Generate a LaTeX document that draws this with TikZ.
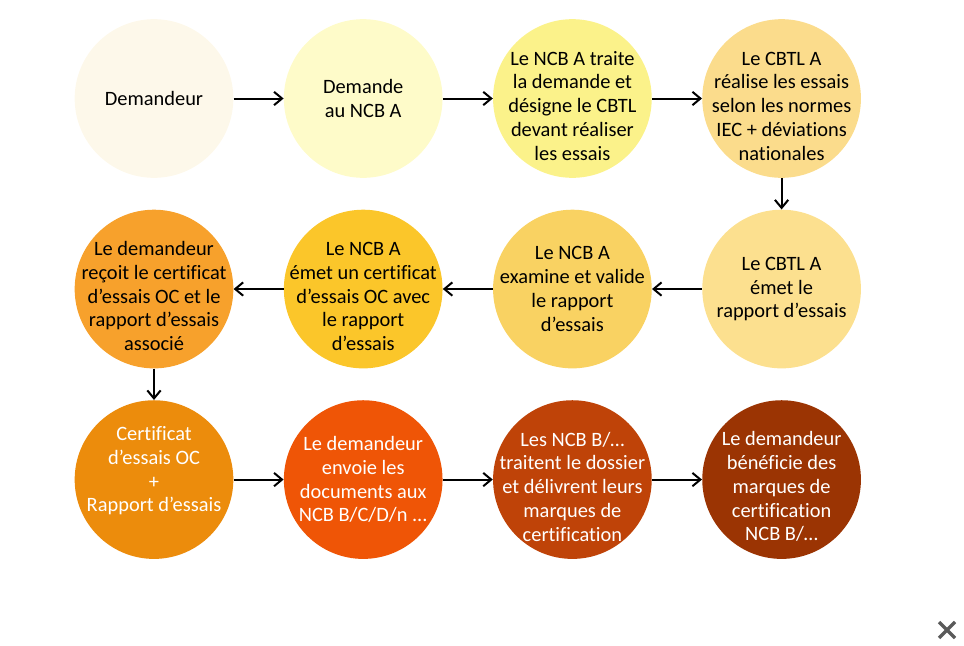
\documentclass[tikz,border=0pt]{standalone}
\usepackage{fontspec}
\setmainfont[Ligatures=NoCommon]{Carlito}
\usepackage{xcolor}
\usepackage{tikz}
\usetikzlibrary{positioning,arrows.meta}
\definecolor{c11}{HTML}{FDF8EA}
\definecolor{c12}{HTML}{FEFBC9}
\definecolor{c13}{HTML}{FBF28A}
\definecolor{c14}{HTML}{FBDC8C}
\definecolor{c24}{HTML}{FCE08F}
\definecolor{c23}{HTML}{F9D262}
\definecolor{c22}{HTML}{FBC62A}
\definecolor{c21}{HTML}{F7A12C}
\definecolor{c31}{HTML}{EC8C0C}
\definecolor{c32}{HTML}{EF5506}
\definecolor{c33}{HTML}{BF4308}
\definecolor{c34}{HTML}{9B3403}
\definecolor{xgray}{HTML}{5A5A5A}

\begin{document}
\begin{tikzpicture}
		[x=0.75pt,y=-0.75pt,node distance=23.5pt and 37.5pt,
		every node/.style={circle,minimum size=119pt,inner sep=-0.8cm,align=center,
			font=\fontsize{15.3}{17.8}\selectfont},
		dark/.style={text=white},
		low/.style={text height=92.5pt},
		high/.style={text depth=15.5pt},
		flow/.style={-{Straight Barb[length=6pt,width=10pt]},line width=1.5pt}]
		\useasboundingbox (0,0) rectangle (964,646);
		\node[fill=c11] (dem) at (154,98.5) {Demandeur};
		\node[fill=c12,right=of dem] (req) {Demande\\au NCB A};
		\node[fill=c13,low,right=of req] (trt) {Le NCB A traite\\la demande et\\désigne le CBTL\\devant réaliser\\les essais};
		\node[fill=c14,low,right=of trt] (tst) {Le CBTL A\\réalise les essais\\selon les normes\\IEC + déviations\\nationales};
		\node[fill=c24,below=of tst] (rep) {Le CBTL A\\émet le\\rapport d’essais};
		\node[fill=c23,left=of rep] (val) {Le NCB A\\examine et valide\\le rapport\\d’essais};
		\node[fill=c22,low,left=of val] (cert) {Le NCB A\\émet un certificat\\d’essais OC avec\\le rapport\\d’essais};
		\node[fill=c21,low,left=of cert] (recv) {Le demandeur\\reçoit le certificat\\d’essais OC et le\\rapport d’essais\\associé};
		\node[fill=c31,dark,high,below=of recv] (pack) {Certificat\\d’essais OC\\+\\Rapport d’essais};
		\node[fill=c32,dark,right=of pack] (send) {Le demandeur\\envoie les\\documents aux\\NCB B/C/D/n ...};
		\node[fill=c33,dark,low,right=of send] (proc) {Les NCB B/…\\traitent le dossier\\et délivrent leurs\\marques de\\certification};
		\node[fill=c34,dark,low,right=of proc] (mark) {Le demandeur\\bénéficie des\\marques de\\certification\\NCB B/…};
		\draw[flow] (dem) -- (req);
		\draw[flow] (req) -- (trt);
		\draw[flow] (trt) -- (tst);
		\draw[flow] (tst) -- (rep);
		\draw[flow] (rep) -- (val);
		\draw[flow] (val) -- (cert);
		\draw[flow] (cert) -- (recv);
		\draw[flow] (recv) -- (pack);
		\draw[flow] (pack) -- (send);
		\draw[flow] (send) -- (proc);
		\draw[flow] (proc) -- (mark);
		\draw[xgray,line width=2.6pt] (939,622) -- (955,638) (955,622) -- (939,638);
\end{tikzpicture}
\end{document}
